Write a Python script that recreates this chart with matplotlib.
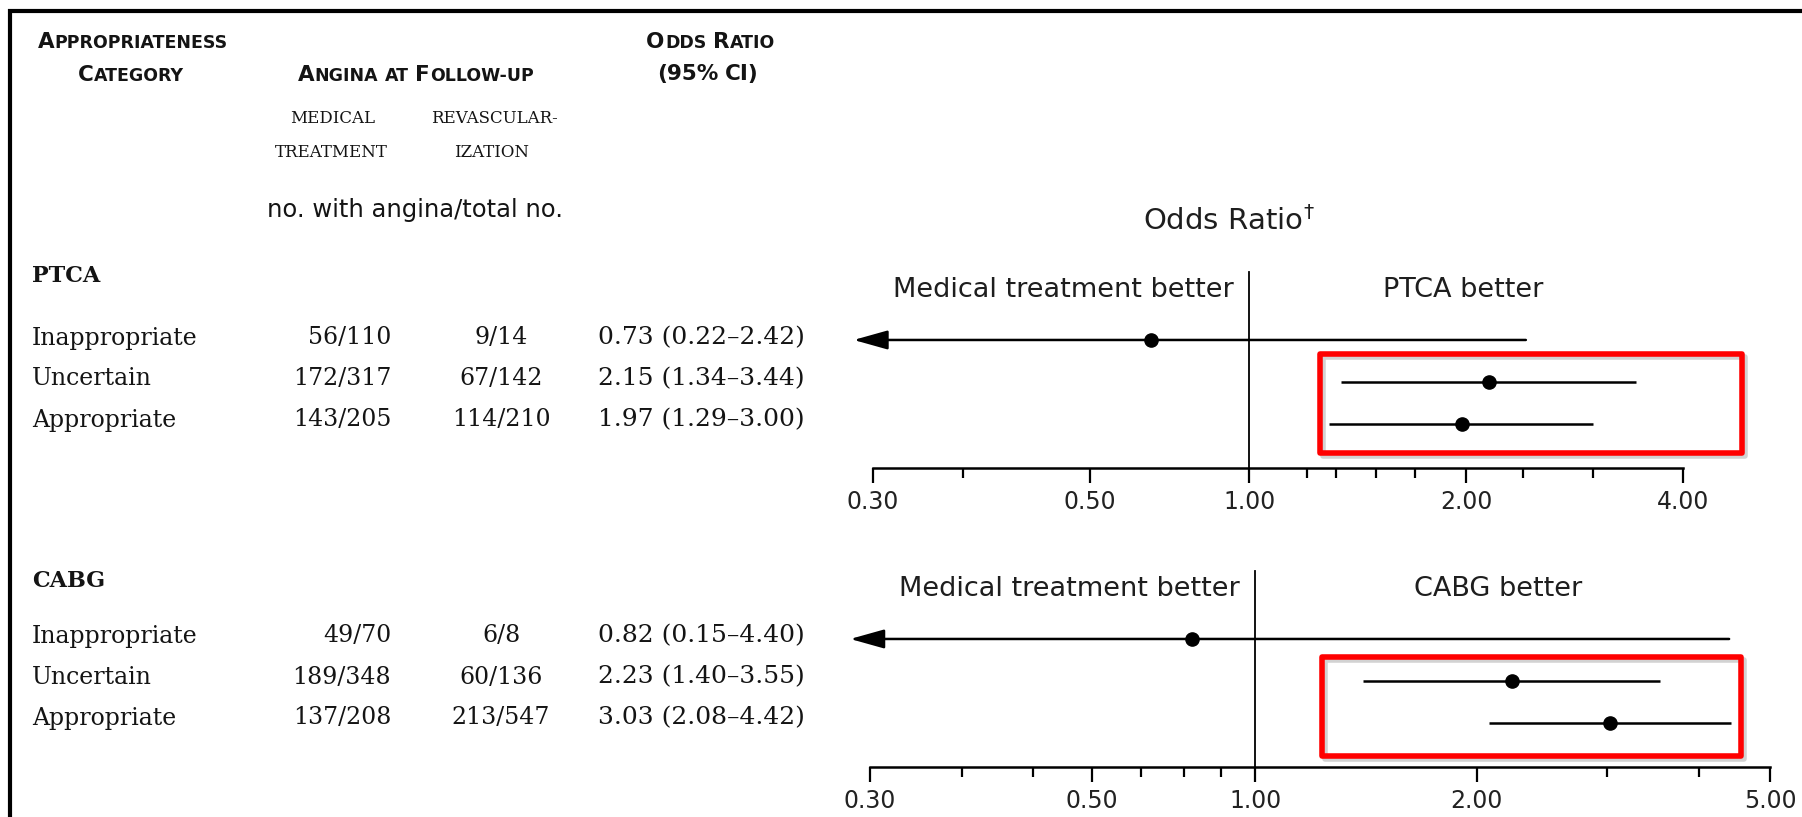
import matplotlib
matplotlib.use('Agg')
import matplotlib.pyplot as plt
from matplotlib.patches import Rectangle
from matplotlib.lines import Line2D
from matplotlib.ticker import NullFormatter
import matplotlib.patheffects as pe

# ---------------- data ----------------
categories = ['Inappropriate', 'Uncertain', 'Appropriate']

ptca_medical = ['56/110', '172/317', '143/205']
ptca_revasc = ['9/14', '67/142', '114/210']
ptca_or = [0.73, 2.15, 1.97]
ptca_lo = [0.22, 1.34, 1.29]
ptca_hi = [2.42, 3.44, 3.00]

cabg_medical = ['49/70', '189/348', '137/208']
cabg_revasc = ['6/8', '60/136', '213/547']
cabg_or = [0.82, 2.23, 3.03]
cabg_lo = [0.15, 1.40, 2.08]
cabg_hi = [4.40, 3.55, 4.42]

ptca_ticks = [0.3, 0.6, 1.0, 2.0, 4.0]
ptca_ticklabels = ['0.30', '0.50', '1.00', '2.00', '4.00']
ptca_minor = [0.4, 1.2, 1.32, 1.5, 1.7, 2.4, 3.0]

cabg_ticks = [0.3, 0.6, 1.0, 2.0, 5.0]
cabg_ticklabels = ['0.30', '0.50', '1.00', '2.00', '5.00']
cabg_minor = [0.4, 0.5, 0.7, 0.8, 0.9, 3.0, 4.0]

# ---------------- figure ----------------
W, H, DPI = 1802, 817, 100
fig = plt.figure(figsize=(W / DPI, H / DPI), dpi=DPI)
fig.patch.set_facecolor('white')
renderer = fig.canvas.get_renderer()

SERIF = 'DejaVu Serif'
SANS = 'DejaVu Sans'
INK = '#141414'


def fx(x):
    return x / W


def fy(y):
    return 1 - y / H


# frame (top and left)
fig.add_artist(Line2D([fx(8), 1.0], [fy(11), fy(11)], lw=3, color='black',
                      solid_capstyle='butt'))
fig.add_artist(Line2D([fx(10), fx(10)], [fy(9), 0.0], lw=3, color='black',
                      solid_capstyle='butt'))


def small_caps(label, xc, yb, big=15.5, small=12.5):
    items = []
    gap = small * 0.33 * DPI / 72
    for wi, word in enumerate(label.split(' ')):
        if wi > 0:
            items.append(('__gap__', gap))
        cur, cursz = '', None
        for ch in word:
            sz = big if (ch.isupper() or ch.isdigit() or ch in '()%') else small
            if cur and sz != cursz:
                items.append((cur, cursz))
                cur = ''
            cur += ch.upper()
            cursz = sz
        if cur:
            items.append((cur, cursz))
    objs, widths = [], []
    for txt, val in items:
        if txt == '__gap__':
            objs.append(None)
            widths.append(val)
            continue
        t = fig.text(0, 0, txt, fontsize=val, family=SANS, weight='bold',
                     color=INK, ha='left', va='baseline')
        bb = t.get_window_extent(renderer)
        objs.append(t)
        widths.append(bb.width + 0.6)
    x = xc - sum(widths) / 2
    for o, w in zip(objs, widths):
        if o is not None:
            o.set_position((fx(x), fy(yb)))
        x += w


# column headers
small_caps('Appropriateness', 133, 48)
small_caps('Category', 131, 81)
small_caps('Angina at Follow-up', 416, 81)
small_caps('Odds Ratio', 711, 48)
small_caps('(95% CI)', 708, 80)

for txt, x, y in [('MEDICAL', 333, 123), ('TREATMENT', 331, 157),
                  ('REVASCULAR-', 494, 123), ('IZATION', 492, 157)]:
    fig.text(fx(x), fy(y), txt, fontsize=12, family=SERIF, color=INK,
             ha='center', va='baseline')
fig.text(fx(415), fy(217), 'no. with angina/total no.', fontsize=17.5,
         family=SANS, color=INK, ha='center', va='baseline')


def table_block(title, title_y, row_ys, med, rev, ors, los, his):
    fig.text(fx(32), fy(title_y), title, fontsize=16, family=SERIF,
             weight='bold', color=INK, ha='left', va='baseline')
    for cat, y, m, r, o, l, h in zip(categories, row_ys, med, rev, ors, los, his):
        yb = y + 8.5
        fig.text(fx(32), fy(yb), cat, fontsize=17, family=SERIF, color=INK,
                 ha='left', va='baseline')
        fig.text(fx(391), fy(yb), m, fontsize=17, family=SERIF, color=INK,
                 ha='right', va='baseline')
        fig.text(fx(501), fy(yb), r, fontsize=17, family=SERIF, color=INK,
                 ha='center', va='baseline')
        fig.text(fx(598), fy(yb), f'{o:.2f} ({l:.2f}\u2013{h:.2f})',
                 fontsize=18, family=SERIF, color=INK, ha='left',
                 va='baseline')


table_block('PTCA', 282, [336, 377, 418], ptca_medical, ptca_revasc,
            ptca_or, ptca_lo, ptca_hi)
table_block('CABG', 587, [634, 675, 716], cabg_medical, cabg_revasc,
            cabg_or, cabg_lo, cabg_hi)

# ---------------- forest plots ----------------
XMIN = 0.3
ARROW_TIP = 0.282
YBOT, YTOP = -0.05, 4.786
ROWS = [3, 2, 1]
LINE_TOP = 4.62
LABEL_Y = 4.19


def forest(left_px, right_px, axis_px, ors, los, his, xmax, ticks,
           ticklabels, minor, better_label, better_x):
    height_px = 203
    ax = fig.add_axes([fx(left_px), (H - axis_px) / H,
                       (right_px - left_px) / W, height_px / H])
    ax.set_xscale('log')
    ax.set_xlim(XMIN, xmax)
    ax.set_ylim(YBOT, YTOP)
    ax.patch.set_visible(False)
    for s in ['left', 'right', 'top']:
        ax.spines[s].set_visible(False)
    ax.spines['bottom'].set_linewidth(1.8)
    ax.set_yticks([])
    ax.set_xticks(ticks, labels=ticklabels)
    ax.set_xticks(minor, minor=True)
    ax.xaxis.set_minor_formatter(NullFormatter())
    ax.tick_params(axis='x', which='major', length=11, width=1.6, pad=5,
                   labelsize=17, labelcolor='#222222', direction='out')
    ax.tick_params(axis='x', which='minor', length=7, width=1.6,
                   direction='out')

    ax.plot([1, 1], [YBOT, LINE_TOP], color='black', lw=1.3, clip_on=False)

    for y, o, l, h in zip(ROWS, ors, los, his):
        if l < XMIN:
            ax.annotate('', xy=(ARROW_TIP, y), xytext=(h, y),
                        annotation_clip=False,
                        arrowprops=dict(arrowstyle='-|>,head_length=1.5,head_width=0.42',
                                        mutation_scale=14, lw=1.8,
                                        color='black', shrinkA=0, shrinkB=0))
        else:
            ax.plot([l, h], [y, y], color='black', lw=1.8, clip_on=False,
                    solid_capstyle='butt')
        ax.plot([o], [y], 'o', ms=9.5, color='black', clip_on=False,
                zorder=4)

    ax.annotate('Medical treatment better', xy=(1, LABEL_Y),
                xytext=(-11, 0), textcoords='offset points', ha='right',
                va='center', fontsize=19.5, family=SANS, color='#1e1e1e')
    ax.text(better_x, LABEL_Y, better_label, ha='center', va='center',
            fontsize=19.5, family=SANS, color='#1e1e1e')
    return ax


forest(873, 1683, 468, ptca_or, ptca_lo, ptca_hi, 4.0, ptca_ticks,
       ptca_ticklabels, ptca_minor, 'PTCA better', 1.98)
forest(870, 1770, 767, cabg_or, cabg_lo, cabg_hi, 5.0, cabg_ticks,
       cabg_ticklabels, cabg_minor, 'CABG better', 2.14)

fig.text(fx(1229), fy(221), r'Odds Ratio$^{\dagger}$', fontsize=21,
         family=SANS, color='#1e1e1e', ha='center', va='center')


# ---------------- red highlight boxes ----------------
def red_box(x0, y0, x1, y1):
    r = Rectangle((fx(x0), fy(y1)), fx(x1) - fx(x0), fy(y0) - fy(y1),
                  transform=fig.transFigure, fill=False, edgecolor='#ff0000',
                  lw=4, joinstyle='round', zorder=10,
                  path_effects=[pe.SimpleLineShadow(offset=(2, -2),
                                                    shadow_color='gray',
                                                    alpha=0.35),
                                pe.Normal()])
    fig.add_artist(r)


red_box(1320, 354, 1742, 453)
red_box(1322, 657, 1741, 756)

fig.savefig('out.png', dpi=DPI, facecolor='white')
